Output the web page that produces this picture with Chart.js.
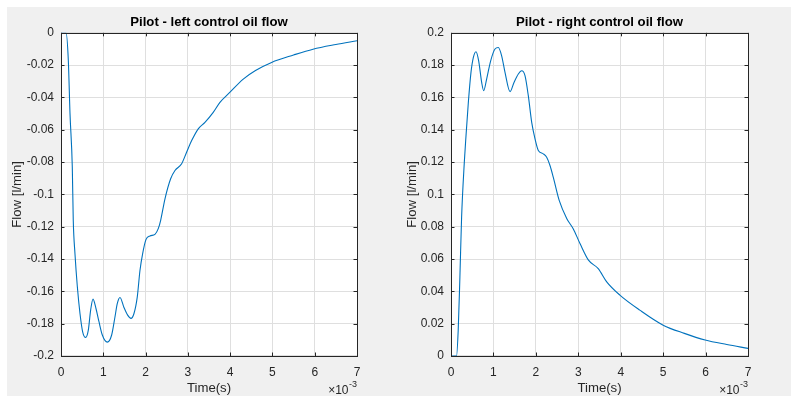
<!DOCTYPE html>
<html>
<head>
<meta charset="utf-8">
<script src="https://cdn.jsdelivr.net/npm/chart.js@4"></script>
<style>
  body{margin:0;background:#fff;width:793px;height:396px;overflow:hidden;position:relative;}
  #fig{position:absolute;left:7px;top:7px;width:784px;height:389px;background:#f0f0f0;}
  canvas{position:absolute;top:0;}
  #leftChart{left:0;}
  #rightChart{left:400px;}
</style>
</head>
<body>
<div id="fig"></div>
<canvas id="leftChart" width="400" height="396"></canvas>
<canvas id="rightChart" width="393" height="396"></canvas>
<script>
// time in units of 1e-3 s
const LEFT_T = [0, 0.12, 0.173, 0.213, 0.267, 0.29, 0.33, 0.386, 0.449, 0.512, 0.583, 0.646, 0.701, 0.757, 0.827, 0.898, 0.977, 1.095, 1.198, 1.277, 1.332, 1.395, 1.489, 1.576, 1.655, 1.726, 1.804, 1.868, 1.931, 2.009, 2.104, 2.222, 2.30, 2.357, 2.459, 2.593, 2.695, 2.853, 2.97, 3.09, 3.246, 3.404, 3.60, 3.759, 3.979, 4.31, 4.6, 4.98, 5.5, 5.96, 6.5, 7.0];
const LEFT_FLOW = [0, 0, -0.017, -0.05, -0.083, -0.116, -0.1366, -0.157, -0.1737, -0.185, -0.1885, -0.184, -0.1716, -0.1648, -0.1706, -0.1788, -0.187, -0.1914, -0.187, -0.1757, -0.1675, -0.1638, -0.170, -0.1747, -0.1767, -0.1737, -0.1634, -0.1469, -0.1366, -0.128, -0.1257, -0.1247, -0.1212, -0.116, -0.1027, -0.0903, -0.0852, -0.081, -0.0739, -0.0667, -0.0594, -0.0554, -0.0492, -0.043, -0.0372, -0.0286, -0.0233, -0.0183, -0.0137, -0.0101, -0.0072, -0.0049];

const RIGHT_T = [0, 0.13, 0.17, 0.21, 0.25, 0.314, 0.354, 0.409, 0.471, 0.527, 0.589, 0.652, 0.723, 0.77, 0.84, 0.935, 1.037, 1.115, 1.194, 1.273, 1.391, 1.485, 1.587, 1.666, 1.744, 1.822, 1.902, 1.98, 2.058, 2.175, 2.255, 2.333, 2.41, 2.55, 2.73, 2.88, 3.04, 3.24, 3.47, 3.67, 3.98, 4.45, 5.0, 5.5, 5.99, 6.5, 7.0];
const RIGHT_FLOW = [0, 0, 0.016, 0.049, 0.086, 0.12, 0.1364, 0.157, 0.1755, 0.1848, 0.1883, 0.1827, 0.1693, 0.1642, 0.1714, 0.1827, 0.19, 0.1909, 0.1858, 0.1755, 0.1636, 0.1693, 0.1745, 0.1765, 0.1735, 0.1611, 0.1446, 0.1344, 0.1272, 0.1251, 0.123, 0.1179, 0.1107, 0.0963, 0.085, 0.0788, 0.0696, 0.0593, 0.0541, 0.0459, 0.0377, 0.0284, 0.0191, 0.0140, 0.0099, 0.0071, 0.0047];

const X_TICKS = [0, 1, 2, 3, 4, 5, 6, 7];
const X_EXPONENT = '-3';

const FONT = "'Liberation Sans', Arial, Helvetica, sans-serif";
const AXIS_COLOR = '#262626';
const GRID_COLOR = '#dfdfdf';
const LINE_COLOR = '#0072bd';

function toPoints(ts, vs){return ts.map((t,i)=>({x:t, y:vs[i]}));}
function fmt(v){return String(+Number(v).toFixed(2));}

// white plot area, box with inward ticks, x10^-3 label
const matlabAxes = {
  id:'matlabAxes',
  beforeDraw(chart){
    const {ctx, chartArea:a} = chart;
    ctx.save();
    ctx.fillStyle='#fff';
    ctx.fillRect(a.left, a.top, a.right-a.left, a.bottom-a.top);
    ctx.restore();
  },
  afterDraw(chart){
    const {ctx, chartArea:a, scales} = chart;
    const tl = 3.5;
    ctx.save();
    ctx.strokeStyle=AXIS_COLOR;
    ctx.lineWidth=1;
    ctx.beginPath();
    scales.x.ticks.forEach(t=>{
      const px=Math.round(scales.x.getPixelForValue(t.value))+0.5;
      ctx.moveTo(px,a.bottom); ctx.lineTo(px,a.bottom-tl);
      ctx.moveTo(px,a.top); ctx.lineTo(px,a.top+tl);
    });
    scales.y.ticks.forEach(t=>{
      const py=Math.round(scales.y.getPixelForValue(t.value))+0.5;
      ctx.moveTo(a.left,py); ctx.lineTo(a.left+tl,py);
      ctx.moveTo(a.right,py); ctx.lineTo(a.right-tl,py);
    });
    ctx.stroke();
    ctx.strokeRect(Math.round(a.left)+0.5, Math.round(a.top)+0.5, Math.round(a.right-a.left), Math.round(a.bottom-a.top));
    // exponent label
    ctx.fillStyle=AXIS_COLOR;
    ctx.textAlign='left';
    ctx.textBaseline='alphabetic';
    ctx.font='9px '+FONT;
    const w3=ctx.measureText(X_EXPONENT).width;
    ctx.fillText(X_EXPONENT, a.right-w3, 386.5);
    ctx.font='12px '+FONT;
    ctx.textAlign='right';
    ctx.fillText('\u00d710', a.right-w3-0.5, 394);
    ctx.restore();
  }
};

function makeChart(id, title, ts, vs, yMin, yMax, yAxisWidth, yTitlePad, rightPad){
  return new Chart(document.getElementById(id).getContext('2d'), {
    type:'line',
    data:{datasets:[{
      data:toPoints(ts, vs),
      borderColor:LINE_COLOR,
      borderWidth:1.1,
      pointRadius:0,
      fill:false,
      cubicInterpolationMode:'monotone'
    }]},
    options:{
      responsive:false,
      animation:false,
      layout:{padding:{left:0, right:rightPad, top:0, bottom:0}},
      plugins:{
        legend:{display:false},
        tooltip:{enabled:false},
        title:{display:true, fullSize:false, text:title, color:'#000',
          font:{family:FONT, size:13.2, weight:'bold'}, padding:{top:14, bottom:3}}
      },
      scales:{
        x:{
          type:'linear', min:0, max:7,
          afterBuildTicks:s=>{s.ticks=X_TICKS.map(v=>({value:v}));},
          afterFit:s=>{s.height=40;},
          grid:{color:GRID_COLOR, drawTicks:false},
          border:{display:false},
          ticks:{color:AXIS_COLOR, font:{family:FONT, size:12}, padding:9, maxRotation:0, callback:fmt},
          title:{display:true, text:'Time(s)', color:AXIS_COLOR, font:{family:FONT, size:13.2}, padding:{top:0, bottom:0}}
        },
        y:{
          min:yMin, max:yMax,
          afterFit:s=>{s.width=yAxisWidth;},
          grid:{color:GRID_COLOR, drawTicks:false},
          border:{display:false},
          ticks:{stepSize:0.02, color:AXIS_COLOR, font:{family:FONT, size:12}, padding:7, callback:fmt},
          title:{display:true, text:'Flow [l/min]', color:AXIS_COLOR, font:{family:FONT, size:13.2}, padding:{top:yTitlePad, bottom:0}}
        }
      }
    },
    plugins:[matlabAxes]
  });
}

makeChart('leftChart', 'Pilot - left control oil flow', LEFT_T, LEFT_FLOW, -0.2, 0, 61, 9.6, 43);
makeChart('rightChart', 'Pilot - right control oil flow', RIGHT_T, RIGHT_FLOW, 0, 0.2, 51, 4, 45);
</script>
</body>
</html>
